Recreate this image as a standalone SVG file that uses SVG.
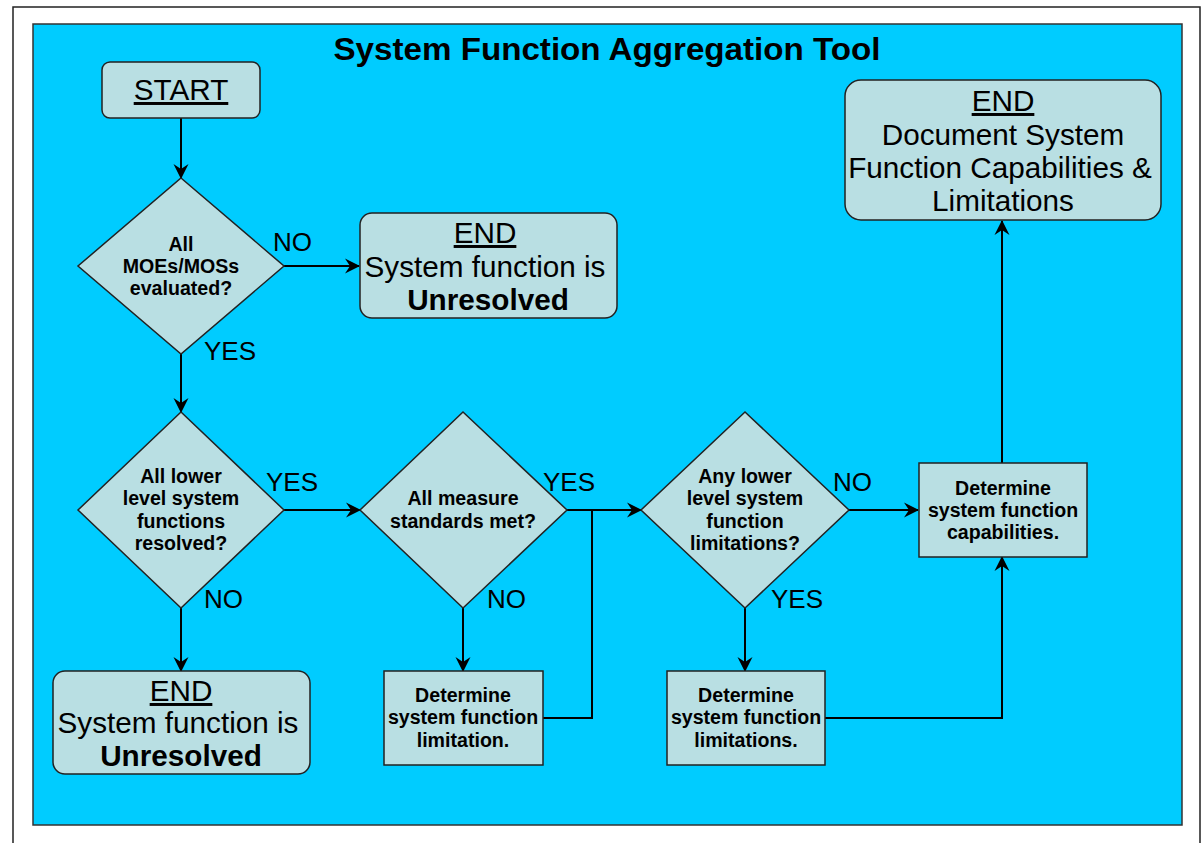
<svg xmlns="http://www.w3.org/2000/svg" width="1203" height="843" viewBox="0 0 1203 843">
  <style>
    .frame { fill: #ffffff; stroke: #222222; stroke-width: 1.5; }
    .panel { fill: #00ccff; stroke: #333333; stroke-width: 1.5; }
    .shape { fill: #b9dfe3; stroke: #222222; stroke-width: 1.5; }
    .wire { fill: none; stroke: #000000; stroke-width: 2; }
    .title { font-family: "Liberation Sans", Arial, sans-serif; font-size: 32px; font-weight: bold; fill: #000; text-anchor: middle; }
    .big { font-family: "Liberation Sans", Arial, sans-serif; font-size: 29.7px; fill: #000; text-anchor: middle; }
    .bigb { font-weight: bold; }
    .u { text-decoration: underline; }
    .q { font-family: "Liberation Sans", Arial, sans-serif; font-size: 19.6px; font-weight: bold; fill: #000; text-anchor: middle; }
    .lbl { font-family: "Liberation Sans", Arial, sans-serif; font-size: 26px; fill: #000; }
  </style>
  <defs>
    <marker id="arrow" markerUnits="userSpaceOnUse" markerWidth="16" markerHeight="16" viewBox="0 -8 15 16" refX="14" refY="0" orient="auto">
      <path d="M0,-7.5 L15,0 L0,7.5 L5,0 Z" fill="#000"/>
    </marker>
  </defs>

  <!-- page frame and panel -->
  <path class="frame" d="M13,850 L13,7 L1200,7 L1200,850"/>
  <rect class="panel" x="33" y="24" width="1149" height="801"/>

  <text class="title" x="607" y="60" textLength="547" lengthAdjust="spacingAndGlyphs">System Function Aggregation Tool</text>

  <!-- connectors -->
  <g id="connectors">
    <line class="wire" x1="181" y1="118" x2="181" y2="178" marker-end="url(#arrow)"/>
    <line class="wire" x1="284" y1="266" x2="359" y2="266" marker-end="url(#arrow)"/>
    <line class="wire" x1="181" y1="354" x2="181" y2="412" marker-end="url(#arrow)"/>
    <line class="wire" x1="284" y1="510" x2="360" y2="510" marker-end="url(#arrow)"/>
    <line class="wire" x1="567" y1="510" x2="641" y2="510" marker-end="url(#arrow)"/>
    <line class="wire" x1="849" y1="510" x2="918" y2="510" marker-end="url(#arrow)"/>
    <line class="wire" x1="1002" y1="463" x2="1002" y2="221" marker-end="url(#arrow)"/>
    <line class="wire" x1="181" y1="608" x2="181" y2="671" marker-end="url(#arrow)"/>
    <line class="wire" x1="463" y1="608" x2="463" y2="671" marker-end="url(#arrow)"/>
    <line class="wire" x1="745" y1="608" x2="745" y2="671" marker-end="url(#arrow)"/>
    <polyline class="wire" points="543,718 592,718 592,510"/>
    <polyline class="wire" points="825,718 1002,718 1002,557" marker-end="url(#arrow)"/>
  </g>

  <!-- branch labels -->
  <g id="labels">
    <text class="lbl" x="273" y="251">NO</text>
    <text class="lbl" x="204" y="360">YES</text>
    <text class="lbl" x="266" y="491">YES</text>
    <text class="lbl" x="204" y="608">NO</text>
    <text class="lbl" x="543" y="491">YES</text>
    <text class="lbl" x="487" y="608">NO</text>
    <text class="lbl" x="833" y="491">NO</text>
    <text class="lbl" x="771" y="608">YES</text>
  </g>

  <g id="start">
    <rect class="shape" x="102" y="62" width="158" height="56" rx="8"/>
    <text class="big u" x="181" y="100">START</text>
  </g>

  <g id="check-moe">
    <polygon class="shape" points="181,178 284,266 181,354 78,266"/>
    <text class="q" x="181" y="251">All</text>
    <text class="q" x="181" y="273">MOEs/MOSs</text>
    <text class="q" x="181" y="295">evaluated?</text>
  </g>

  <g id="end-unresolved-1">
    <rect class="shape" x="360" y="213" width="257" height="105" rx="12"/>
    <text class="big u" x="485" y="243">END</text>
    <text class="big" x="485" y="277">System function is</text>
    <text class="big bigb" x="488" y="310">Unresolved</text>
  </g>

  <g id="check-lower-resolved">
    <polygon class="shape" points="181,412 284,510 181,608 78,510"/>
    <text class="q" x="181" y="483">All lower</text>
    <text class="q" x="181" y="505">level system</text>
    <text class="q" x="181" y="528">functions</text>
    <text class="q" x="181" y="550">resolved?</text>
  </g>

  <g id="check-standards">
    <polygon class="shape" points="463,412 567,510 463,608 360,510"/>
    <text class="q" x="463" y="505">All measure</text>
    <text class="q" x="463" y="528">standards met?</text>
  </g>

  <g id="check-limitations">
    <polygon class="shape" points="745,412 849,510 745,608 641,510"/>
    <text class="q" x="745" y="483">Any lower</text>
    <text class="q" x="745" y="505">level system</text>
    <text class="q" x="745" y="528">function</text>
    <text class="q" x="745" y="550">limitations?</text>
  </g>

  <g id="determine-capabilities">
    <rect class="shape" x="919" y="463" width="168" height="94"/>
    <text class="q" x="1003" y="495">Determine</text>
    <text class="q" x="1003" y="517">system function</text>
    <text class="q" x="1003" y="539">capabilities.</text>
  </g>

  <g id="end-document">
    <rect class="shape" x="845" y="80" width="316" height="140" rx="16"/>
    <text class="big u" x="1003" y="111">END</text>
    <text class="big" x="1003" y="145">Document System</text>
    <text class="big" x="1000" y="178">Function Capabilities &amp;</text>
    <text class="big" x="1003" y="211">Limitations</text>
  </g>

  <g id="end-unresolved-2">
    <rect class="shape" x="53" y="671" width="257" height="103" rx="12"/>
    <text class="big u" x="181" y="701">END</text>
    <text class="big" x="178" y="733">System function is</text>
    <text class="big bigb" x="181" y="766">Unresolved</text>
  </g>

  <g id="determine-limitation">
    <rect class="shape" x="384" y="671" width="159" height="94"/>
    <text class="q" x="463" y="702">Determine</text>
    <text class="q" x="463" y="724">system function</text>
    <text class="q" x="463" y="747">limitation.</text>
  </g>

  <g id="determine-limitations">
    <rect class="shape" x="667" y="671" width="158" height="94"/>
    <text class="q" x="746" y="702">Determine</text>
    <text class="q" x="746" y="724">system function</text>
    <text class="q" x="746" y="747">limitations.</text>
  </g>
</svg>
